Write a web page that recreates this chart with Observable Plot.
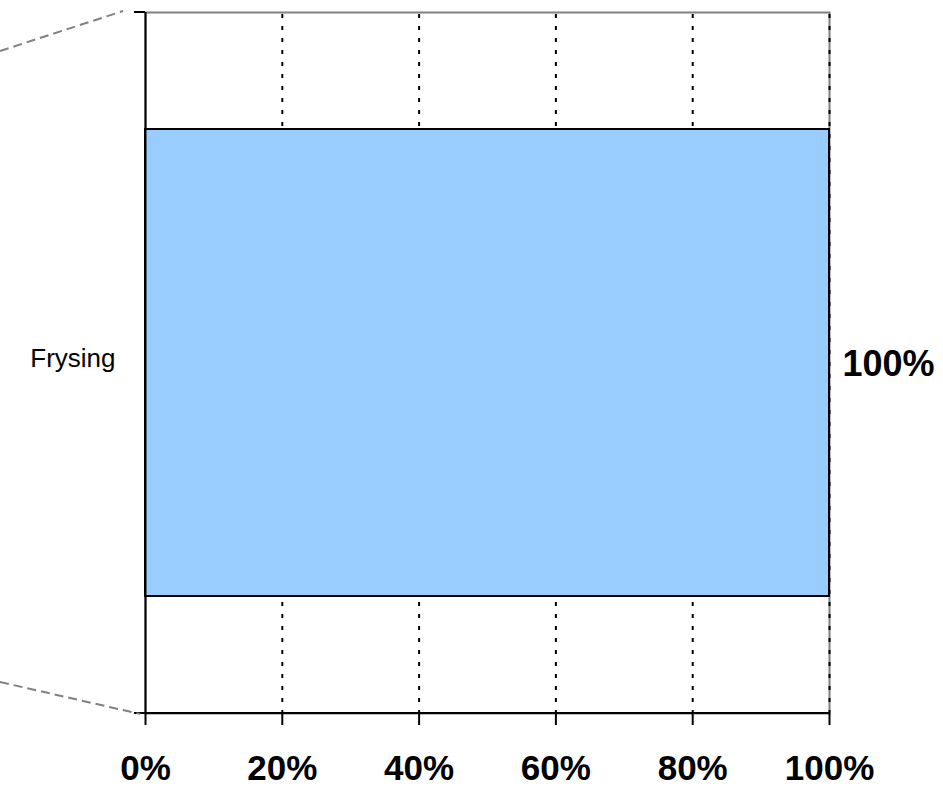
<!DOCTYPE html>
<html>
<head>
<meta charset="utf-8">
<script src="https://cdn.jsdelivr.net/npm/d3@7"></script>
<script src="https://cdn.jsdelivr.net/npm/@observablehq/plot@0.6"></script>
<style>
  html, body { margin: 0; padding: 0; background: white; }
</style>
</head>
<body>
<div id="chart"></div>
<script>
// ---- data ----
const categories = ["Frysing"];
const values = [1.0];
const valueLabels = ["100%"];
const xTicks = [0, 0.2, 0.4, 0.6, 0.8, 1.0];
const gridTicks = [0.2, 0.4, 0.6, 0.8, 1.0];

const data = categories.map((c, i) => ({category: c, value: values[i], label: valueLabels[i]}));

const plot = Plot.plot({
  width: 943,
  height: 788,
  marginLeft: 145,
  marginRight: 114,
  marginTop: 12,
  marginBottom: 75,
  style: {fontFamily: "'Liberation Sans', Arial, sans-serif", background: "white", color: "black"},
  x: {domain: [0, 1], axis: null, label: null},
  y: {domain: categories, padding: 0.2, axis: null, label: null},
  marks: [
    Plot.frame({stroke: "#808080", strokeWidth: 2}),
    Plot.ruleX(gridTicks, {stroke: "black", strokeWidth: 2, strokeDasharray: "4,8", strokeDashoffset: -2}),
    Plot.barX(data, {x: "value", y: "category", fill: "#99CCFF", stroke: "black", strokeWidth: 2}),
    Plot.ruleX([0], {stroke: "black", strokeWidth: 2}),
    Plot.axisX({ticks: xTicks, tickFormat: d3.format(".0%"), tickSize: 12, tickPadding: 30, label: null,
      fontSize: 35, fontWeight: "bold", strokeWidth: 2, stroke: "black", fill: "black"}),
    Plot.axisY({tickSize: 0, tickPadding: 30, fontSize: 26, fill: "black", dy: -4, label: null}),
    Plot.text(data, {x: "value", y: "category", text: "label", textAnchor: "start", dx: 13, dy: 1,
      fontSize: 36, fontWeight: "bold", fill: "black"})
  ]
});

// decorations derived from the scales: bottom axis line, category axis end tick, connector lines
const xs = plot.scale("x");
const ys = plot.scale("y");
const yTop = ys.range[0], yBot = ys.range[1];
const x0 = xs.apply(0), x1 = xs.apply(1);
const svg = d3.select(plot);
const g = svg.append("g");
g.append("line").attr("x1", x0 - 11).attr("x2", x1).attr("y1", yBot).attr("y2", yBot)
  .attr("stroke", "black").attr("stroke-width", 2);
g.append("line").attr("x1", x0 - 11).attr("x2", x0).attr("y1", yTop).attr("y2", yTop)
  .attr("stroke", "black").attr("stroke-width", 2);
// connector lines toward the (off-canvas) parent chart, in x-scale units
const connectors = [
  {xa: -0.212, ya: yTop + 39, xb: -0.032, yb: yTop - 1},
  {xa: -0.212, ya: yBot - 31, xb: -0.007, yb: yBot + 1}
];
for (const c of connectors) {
  g.append("line").attr("x1", xs.apply(c.xa)).attr("y1", c.ya).attr("x2", xs.apply(c.xb)).attr("y2", c.yb)
    .attr("stroke", "#808080").attr("stroke-width", 2).attr("stroke-dasharray", "9,5");
}

document.getElementById("chart").appendChild(plot);
</script>
</body>
</html>
